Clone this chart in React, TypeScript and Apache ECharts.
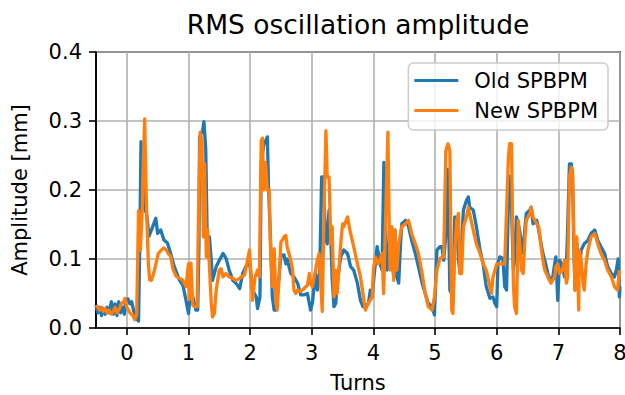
import React, { useEffect, useRef } from "react";
import * as echarts from "echarts";

const titleText = "RMS oscillation amplitude";
const xName = "Turns";
const yName = "Amplitude [mm]";
const seriesNames = ["Old SPBPM", "New SPBPM"];
const seriesColors = ["#1f77b4", "#ff7f0e"];
const xTicks = [0, 1, 2, 3, 4, 5, 6, 7, 8];

const oldX = [
  -0.5, -0.47, -0.44, -0.41, -0.38, -0.35, -0.32, -0.29, -0.25, -0.22, -0.19, -0.16, -0.13, -0.1, -0.07, -0.04, -0.02,
  0.02, 0.05, 0.08, 0.11, 0.14, 0.17, 0.19, 0.21, 0.23, 0.25, 0.27, 0.3, 0.32, 0.36, 0.42, 0.47, 0.5, 0.55, 0.6, 0.66,
  0.71, 0.77, 0.85, 0.91, 0.96, 1.0, 1.04, 1.07, 1.1, 1.12, 1.15, 1.17, 1.18, 1.23, 1.25, 1.28, 1.3, 1.31, 1.34, 1.37,
  1.39, 1.45, 1.5, 1.56, 1.61, 1.66, 1.72, 1.77, 1.83, 1.88, 1.93, 1.99, 2.04, 2.1, 2.12, 2.16, 2.18, 2.22, 2.28, 2.3,
  2.33, 2.36, 2.39, 2.42, 2.45, 2.5, 2.55, 2.58, 2.6, 2.66, 2.71, 2.77, 2.82, 2.87, 2.93, 2.98, 3.01, 3.06, 3.09, 3.13,
  3.16, 3.19, 3.22, 3.25, 3.28, 3.31, 3.33, 3.36, 3.39, 3.41, 3.47, 3.52, 3.58, 3.63, 3.68, 3.74, 3.79, 3.83, 3.86,
  3.92, 3.95, 3.98, 4.0, 4.03, 4.06, 4.08, 4.11, 4.14, 4.17, 4.19, 4.22, 4.25, 4.27, 4.3, 4.33, 4.35, 4.38, 4.41, 4.44,
  4.46, 4.52, 4.57, 4.62, 4.68, 4.73, 4.79, 4.84, 4.89, 4.95, 4.99, 5.03, 5.08, 5.11, 5.14, 5.17, 5.2, 5.22, 5.24, 5.29,
  5.32, 5.35, 5.38, 5.4, 5.43, 5.46, 5.51, 5.54, 5.56, 5.62, 5.67, 5.73, 5.78, 5.83, 5.89, 5.94, 5.97, 6.0, 6.02, 6.05,
  6.1, 6.13, 6.16, 6.19, 6.21, 6.24, 6.27, 6.29, 6.32, 6.35, 6.38, 6.43, 6.46, 6.48, 6.54, 6.56, 6.59, 6.65, 6.68, 6.72,
  6.75, 6.78, 6.83, 6.88, 6.91, 6.94, 6.96, 6.99, 7.02, 7.05, 7.07, 7.1, 7.13, 7.15, 7.18, 7.21, 7.23, 7.25, 7.27, 7.3,
  7.34, 7.37, 7.42, 7.48, 7.53, 7.59, 7.64, 7.69, 7.75, 7.8, 7.86, 7.91, 7.94, 7.97, 7.99, 8.0,
];
const oldY = [
  0.033, 0.022, 0.03, 0.018, 0.028, 0.02, 0.03, 0.022, 0.038, 0.02, 0.035, 0.018, 0.038, 0.022, 0.03, 0.02, 0.04,
  0.042, 0.035, 0.038, 0.025, 0.02, 0.012, 0.01, 0.12, 0.27, 0.25, 0.2, 0.17, 0.166, 0.133, 0.147, 0.159, 0.137, 0.142,
  0.128, 0.123, 0.108, 0.089, 0.07, 0.062, 0.04, 0.021, 0.055, 0.045, 0.035, 0.026, 0.026, 0.12, 0.277, 0.286, 0.299,
  0.26, 0.15, 0.122, 0.132, 0.098, 0.069, 0.089, 0.098, 0.108, 0.101, 0.084, 0.069, 0.065, 0.057, 0.079, 0.089, 0.096,
  0.055, 0.045, 0.028, 0.045, 0.24, 0.265, 0.277, 0.2, 0.13, 0.045, 0.026, 0.026, 0.055, 0.105, 0.106, 0.093, 0.1,
  0.079, 0.074, 0.065, 0.048, 0.048, 0.05, 0.026, 0.036, 0.079, 0.055, 0.084, 0.219, 0.219, 0.132, 0.122, 0.171, 0.127,
  0.074, 0.031, 0.036, 0.065, 0.103, 0.113, 0.108, 0.089, 0.084, 0.065, 0.04, 0.031, 0.031, 0.036, 0.055, 0.045, 0.065,
  0.093, 0.118, 0.108, 0.093, 0.084, 0.24, 0.171, 0.084, 0.089, 0.147, 0.098, 0.074, 0.142, 0.074, 0.065, 0.122, 0.151,
  0.156, 0.147, 0.127, 0.108, 0.089, 0.065, 0.05, 0.036, 0.031, 0.019, 0.113, 0.118, 0.118, 0.098, 0.13, 0.23, 0.16,
  0.055, 0.045, 0.161, 0.156, 0.098, 0.084, 0.122, 0.171, 0.185, 0.19, 0.175, 0.171, 0.147, 0.113, 0.093, 0.06, 0.043,
  0.045, 0.036, 0.031, 0.093, 0.103, 0.101, 0.06, 0.055, 0.19, 0.22, 0.175, 0.084, 0.098, 0.161, 0.151, 0.137, 0.108,
  0.147, 0.166, 0.171, 0.175, 0.151, 0.156, 0.142, 0.122, 0.108, 0.098, 0.079, 0.067, 0.074, 0.093, 0.103, 0.04, 0.098,
  0.093, 0.089, 0.074, 0.089, 0.142, 0.238, 0.238, 0.219, 0.122, 0.055, 0.122, 0.084, 0.113, 0.122, 0.127, 0.137, 0.142,
  0.127, 0.118, 0.108, 0.089, 0.079, 0.074, 0.084, 0.1, 0.045, 0.06,
];

const newX = [
  -0.5, -0.47, -0.44, -0.41, -0.38, -0.35, -0.32, -0.29, -0.25, -0.22, -0.19, -0.16, -0.12, -0.09, -0.05, -0.03, 0.0,
  0.05, 0.1, 0.13, 0.16, 0.19, 0.22, 0.25, 0.27, 0.29, 0.32, 0.35, 0.37, 0.4, 0.45, 0.51, 0.56, 0.6, 0.64, 0.67, 0.71,
  0.75, 0.8, 0.85, 0.9, 0.96, 1.0, 1.01, 1.04, 1.07, 1.1, 1.14, 1.17, 1.19, 1.22, 1.24, 1.26, 1.29, 1.31, 1.34, 1.37,
  1.39, 1.42, 1.45, 1.5, 1.53, 1.56, 1.61, 1.66, 1.72, 1.77, 1.83, 1.91, 1.99, 2.02, 2.04, 2.08, 2.12, 2.15, 2.18, 2.2,
  2.22, 2.25, 2.28, 2.31, 2.33, 2.36, 2.39, 2.42, 2.44, 2.47, 2.5, 2.52, 2.55, 2.58, 2.6, 2.66, 2.69, 2.71, 2.74, 2.77,
  2.82, 2.87, 2.93, 2.96, 2.98, 3.01, 3.04, 3.09, 3.12, 3.14, 3.17, 3.2, 3.23, 3.25, 3.28, 3.31, 3.33, 3.36, 3.39, 3.41,
  3.44, 3.47, 3.5, 3.52, 3.58, 3.63, 3.68, 3.74, 3.79, 3.83, 3.87, 3.92, 3.98, 4.0, 4.03, 4.08, 4.14, 4.165, 4.19, 4.235,
  4.257, 4.27, 4.3, 4.33, 4.35, 4.38, 4.41, 4.46, 4.52, 4.57, 4.62, 4.68, 4.73, 4.79, 4.84, 4.89, 4.95, 4.99, 5.03,
  5.08, 5.14, 5.175, 5.21, 5.24, 5.27, 5.29, 5.32, 5.35, 5.38, 5.4, 5.43, 5.46, 5.51, 5.54, 5.56, 5.62, 5.67, 5.73, 5.78,
  5.83, 5.89, 5.915, 5.94, 6.0, 6.05, 6.1, 6.13, 6.16, 6.19, 6.21, 6.24, 6.27, 6.29, 6.32, 6.35, 6.38, 6.4, 6.43, 6.46,
  6.48, 6.54, 6.56, 6.59, 6.65, 6.68, 6.72, 6.75, 6.78, 6.83, 6.88, 6.94, 6.96, 6.99, 7.02, 7.07, 7.1, 7.13, 7.15, 7.18,
  7.21, 7.23, 7.25, 7.27, 7.3, 7.33, 7.34, 7.37, 7.4, 7.42, 7.45, 7.48, 7.53, 7.59, 7.64, 7.69, 7.75, 7.8, 7.86, 7.91,
  7.96, 7.99,
];
const newY = [
  0.033, 0.03, 0.026, 0.03, 0.024, 0.028, 0.022, 0.026, 0.02, 0.024, 0.03, 0.022, 0.028, 0.035, 0.038, 0.043, 0.03,
  0.022, 0.018, 0.012, 0.02, 0.17, 0.113, 0.17, 0.25, 0.303, 0.171, 0.093, 0.07, 0.069, 0.084, 0.108, 0.113, 0.116,
  0.113, 0.108, 0.104, 0.085, 0.075, 0.072, 0.07, 0.06, 0.093, 0.041, 0.094, 0.033, 0.031, 0.031, 0.2, 0.284, 0.27,
  0.132, 0.238, 0.103, 0.142, 0.089, 0.036, 0.016, 0.021, 0.055, 0.084, 0.086, 0.074, 0.079, 0.074, 0.072, 0.069, 0.072,
  0.077, 0.113, 0.069, 0.04, 0.074, 0.084, 0.074, 0.272, 0.275, 0.2, 0.24, 0.2, 0.2, 0.12, 0.06, 0.115, 0.036, 0.026,
  0.074, 0.125, 0.127, 0.132, 0.134, 0.118, 0.098, 0.084, 0.055, 0.05, 0.055, 0.053, 0.057, 0.062, 0.079, 0.065, 0.06,
  0.074, 0.098, 0.108, 0.074, 0.024, 0.171, 0.286, 0.219, 0.219, 0.122, 0.147, 0.045, 0.084, 0.05, 0.084, 0.122, 0.151,
  0.147, 0.161, 0.137, 0.118, 0.093, 0.074, 0.05, 0.026, 0.036, 0.045, 0.084, 0.103, 0.093, 0.108, 0.05, 0.132, 0.284,
  0.147, 0.084, 0.147, 0.069, 0.142, 0.084, 0.122, 0.147, 0.151, 0.156, 0.137, 0.122, 0.108, 0.079, 0.05, 0.031, 0.026,
  0.045, 0.084, 0.101, 0.103, 0.257, 0.267, 0.257, 0.026, 0.021, 0.113, 0.156, 0.166, 0.079, 0.079, 0.147, 0.161, 0.175,
  0.166, 0.142, 0.122, 0.108, 0.093, 0.084, 0.06, 0.05, 0.074, 0.093, 0.093, 0.093, 0.093, 0.171, 0.248, 0.267, 0.267,
  0.065, 0.031, 0.021, 0.156, 0.113, 0.084, 0.079, 0.132, 0.156, 0.166, 0.175, 0.161, 0.151, 0.147, 0.118, 0.098, 0.084,
  0.074, 0.065, 0.074, 0.089, 0.093, 0.079, 0.084, 0.098, 0.065, 0.074, 0.219, 0.233, 0.228, 0.137, 0.055, 0.132, 0.026,
  0.113, 0.098, 0.065, 0.055, 0.093, 0.113, 0.132, 0.137, 0.122, 0.108, 0.098, 0.084, 0.074, 0.06, 0.055, 0.084,
];

const FONT = "DejaVu Sans";
const W = 625;
const H = 395;
const PLOT_LEFT = 96;
const PLOT_RIGHT = 620;
const PLOT_TOP = 52;
const PLOT_BOTTOM = 328;
const X_MIN = -0.5;
const X_MAX = 8;
const FS = 21;

function zip(xs: number[], ys: number[]): [number, number][] {
  const n = Math.min(xs.length, ys.length);
  const out: [number, number][] = [];
  for (let i = 0; i < n; i++) out.push([xs[i], ys[i]]);
  return out;
}

export default function App() {
  const ref = useRef<HTMLDivElement>(null);
  useEffect(() => {
    if (!ref.current) return;
    const chart = echarts.init(ref.current, undefined, { renderer: "svg" });
    const pxPerUnit = (PLOT_RIGHT - PLOT_LEFT) / (X_MAX - X_MIN);
    const tickGridLeft = PLOT_LEFT + (xTicks[0] - X_MIN) * pxPerUnit;
    const gridCommon = {
      top: PLOT_TOP,
      bottom: H - PLOT_BOTTOM,
      right: W - PLOT_RIGHT,
      containLabel: false,
      outerBoundsMode: "none",
    };
    chart.setOption({
      animation: false,
      backgroundColor: "#ffffff",
      textStyle: { fontFamily: FONT },
      graphic: [
        {
          type: "text",
          x: (PLOT_LEFT + PLOT_RIGHT) / 2,
          y: 11,
          style: {
            text: titleText,
            fontSize: 26.5,
            fontFamily: FONT,
            fill: "#000",
            textAlign: "center",
            textVerticalAlign: "top",
          },
        },
      ],
      grid: [
        {
          ...gridCommon,
          left: PLOT_LEFT,
          show: true,
          borderColor: "#000",
          borderWidth: 1.6,
          backgroundColor: "transparent",
        },
        { ...gridCommon, left: tickGridLeft, show: false },
      ],
      xAxis: [
        {
          type: "value",
          gridIndex: 0,
          min: X_MIN,
          max: X_MAX,
          axisLine: { show: true, onZero: false, lineStyle: { color: "#000", width: 1.6 } },
          axisTick: { show: false },
          axisLabel: { show: false },
          splitLine: { show: false },
          name: xName,
          nameLocation: "middle",
          nameGap: 44,
          nameTextStyle: { fontSize: FS, color: "#000", fontFamily: FONT },
        },
        {
          type: "value",
          gridIndex: 1,
          min: xTicks[0],
          max: xTicks[xTicks.length - 1],
          interval: 1,
          axisLine: { show: false, onZero: false },
          axisTick: { show: true, length: 7, lineStyle: { color: "#000", width: 1.6 } },
          axisLabel: { show: true, fontSize: FS, color: "#000", fontFamily: FONT, margin: 14 },
          splitLine: { show: true, lineStyle: { color: "#b0b0b0", width: 1.6 } },
        },
      ],
      yAxis: [
        {
          type: "value",
          gridIndex: 0,
          min: 0,
          max: 0.4,
          interval: 0.1,
          axisLine: { show: true, onZero: false, lineStyle: { color: "#000", width: 1.6 } },
          axisTick: { show: true, length: 7, lineStyle: { color: "#000", width: 1.6 } },
          axisLabel: {
            show: true,
            fontSize: FS,
            color: "#000",
            fontFamily: FONT,
            margin: 14,
            formatter: (v: number) => v.toFixed(1),
          },
          splitLine: { show: true, lineStyle: { color: "#b0b0b0", width: 1.6 } },
          name: yName,
          nameLocation: "middle",
          nameGap: 66,
          nameTextStyle: { fontSize: FS, color: "#000", fontFamily: FONT },
        },
        { type: "value", gridIndex: 1, min: 0, max: 0.4, show: false },
      ],
      legend: {
        data: seriesNames,
        orient: "vertical",
        right: W - 608,
        top: 63,
        icon: "rect",
        itemWidth: 44,
        itemHeight: 3,
        itemGap: 9,
        padding: [7, 10, 9, 6],
        backgroundColor: "rgba(255,255,255,0.8)",
        borderColor: "#cccccc",
        borderWidth: 1.5,
        borderRadius: 5,
        textStyle: { fontSize: FS, color: "#000", fontFamily: FONT, lineHeight: 21, padding: [0, 0, 0, 11] },
      },
      series: [
        {
          name: seriesNames[0],
          type: "line",
          xAxisIndex: 0,
          yAxisIndex: 0,
          data: zip(oldX, oldY),
          showSymbol: false,
          symbol: "none",
          color: seriesColors[0],
          lineStyle: { color: seriesColors[0], width: 3.3, join: "round" },
          z: 3,
        },
        {
          name: seriesNames[1],
          type: "line",
          xAxisIndex: 0,
          yAxisIndex: 0,
          data: zip(newX, newY),
          showSymbol: false,
          symbol: "none",
          color: seriesColors[1],
          lineStyle: { color: seriesColors[1], width: 3.3, join: "round" },
          z: 4,
        },
      ],
    });
    return () => chart.dispose();
  }, []);
  return <div ref={ref} style={{ width: W, height: H, position: "absolute", left: 0, top: 0 }} />;
}
